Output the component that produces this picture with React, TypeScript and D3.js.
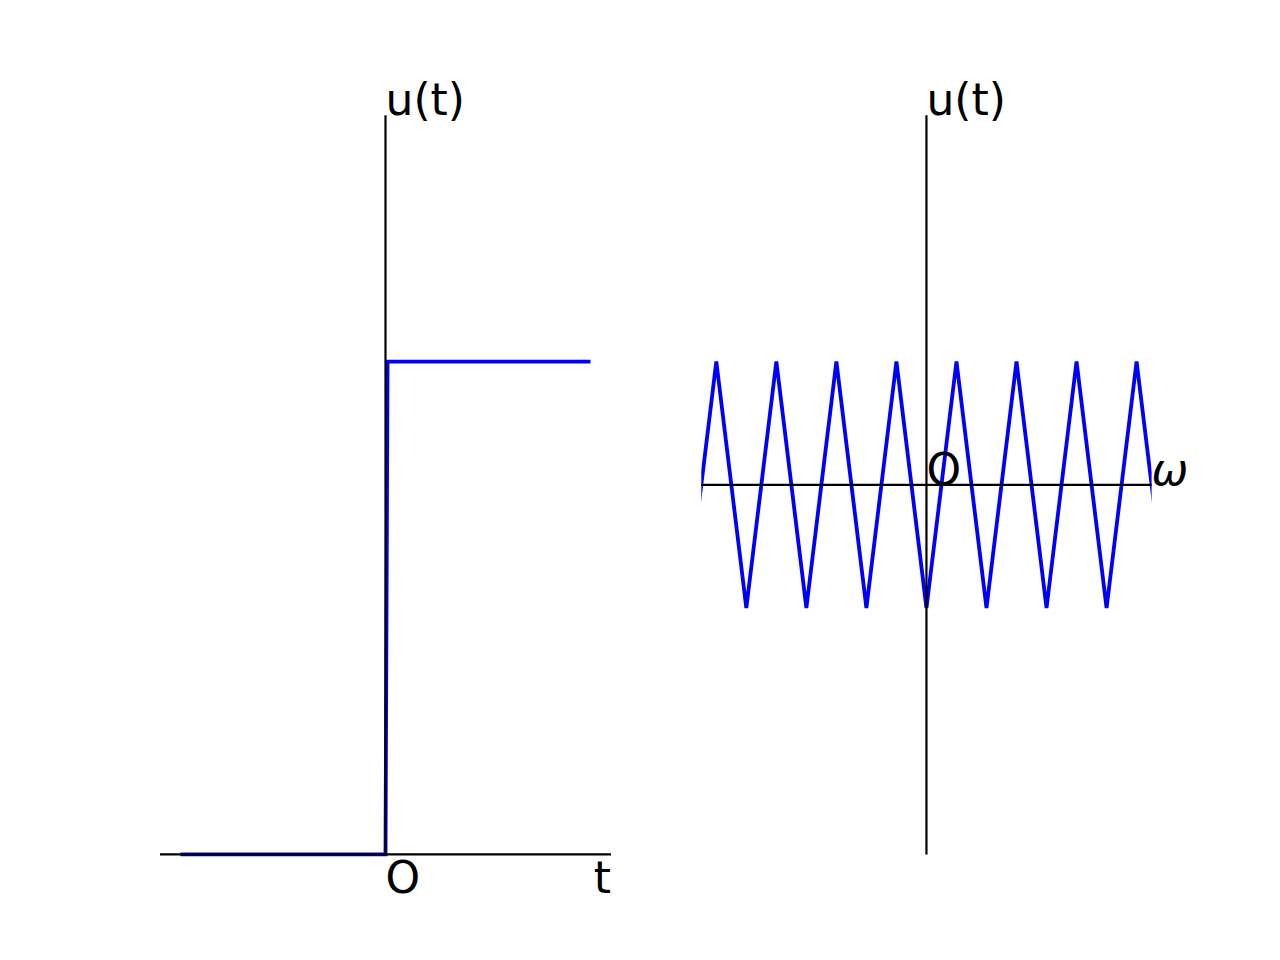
import React, { useRef, useEffect } from 'react';
import * as d3 from 'd3';

// Left panel: unit step u(t)
const stepT = [-1, 0, 0.01, 1];
const stepU = [0, 0, 1, 1];

// Right panel: triangle wave vertices
const waveW = [-8, -7, -6, -5, -4, -3, -2, -1, 0, 1, 2, 3, 4, 5, 6, 7, 8];
const waveU = [-1, 1, -1, 1, -1, 1, -1, 1, -1, 1, -1, 1, -1, 1, -1, 1, -1];

const leftLabels = { y: 'u(t)', origin: 'O', x: 't' };
const rightLabels = { y: 'u(t)', origin: 'O', x: 'ω' };

const FONT = "'DejaVu Sans', sans-serif";
const FS = 44;

const App: React.FC = () => {
  const svgRef = useRef<SVGSVGElement | null>(null);

  useEffect(() => {
    const width = 1280;
    const height = 960;
    d3.select(svgRef.current).selectAll('*').remove();
    const svg = d3.select(svgRef.current).attr('width', width).attr('height', height);

    svg.append('rect').attr('width', width).attr('height', height).attr('fill', '#ffffff');

    const top = 115.2;
    const bottom = 854.4;

    // ---- left axes ----
    const xL = d3.scaleLinear().domain([-1.1, 1.1]).range([160, 611]);
    const yL = d3.scaleLinear().domain([0, 1.5]).range([bottom, top]);

    const stepData = stepT.map((t, i) => [t, stepU[i]] as [number, number]);
    svg.append('path')
      .datum(stepData)
      .attr('d', d3.line<[number, number]>().x(d => xL(d[0])).y(d => yL(d[1])))
      .attr('fill', 'none')
      .attr('stroke', '#0000ff')
      .attr('stroke-width', 3.8);

    const gL = svg.append('g').attr('stroke', '#000').attr('stroke-width', 2.2);
    gL.append('line').attr('x1', xL(0)).attr('x2', xL(0)).attr('y1', top).attr('y2', bottom);
    gL.append('line').attr('x1', 160).attr('x2', 611).attr('y1', yL(0)).attr('y2', yL(0));

    const txt = (x: number, y: number, s: string, anchor = 'start', italic = false) =>
      svg.append('text')
        .attr('x', x)
        .attr('y', y)
        .attr('text-anchor', anchor)
        .attr('font-family', FONT)
        .attr('font-size', FS)
        .attr('font-style', italic ? 'italic' : 'normal')
        .attr('fill', '#000')
        .text(s);

    txt(xL(0), top, leftLabels.y);
    txt(xL(0), yL(0) + 39, leftLabels.origin);
    txt(611, yL(0) + 39, leftLabels.x, 'end');

    // ---- right axes ----
    const x0 = 701.3;
    const x1 = 1151.6;
    const xR = d3.scaleLinear().domain([-7.5, 7.5]).range([x0, x1]);
    const yR = d3.scaleLinear().domain([-3, 3]).range([bottom, top]);

    svg.append('clipPath').attr('id', 'clipR')
      .append('rect').attr('x', x0).attr('y', top).attr('width', x1 - x0).attr('height', bottom - top);

    const waveData = waveW.map((w, i) => [w, waveU[i]] as [number, number]);
    svg.append('path')
      .datum(waveData)
      .attr('clip-path', 'url(#clipR)')
      .attr('d', d3.line<[number, number]>().x(d => xR(d[0])).y(d => yR(d[1])))
      .attr('fill', 'none')
      .attr('stroke', '#0000ff')
      .attr('stroke-width', 3.8);

    const gR = svg.append('g').attr('stroke', '#000').attr('stroke-width', 2.2);
    gR.append('line').attr('x1', xR(0)).attr('x2', xR(0)).attr('y1', top).attr('y2', bottom);
    gR.append('line').attr('x1', x0).attr('x2', x1).attr('y1', yR(0)).attr('y2', yR(0));

    txt(xR(0), top, rightLabels.y);
    txt(xR(0), yR(0), rightLabels.origin);
    txt(x1, yR(0), rightLabels.x, 'start', true);
  }, []);

  return <svg ref={svgRef} style={{ position: 'absolute', left: 0, top: 0 }}></svg>;
};

export default App;
